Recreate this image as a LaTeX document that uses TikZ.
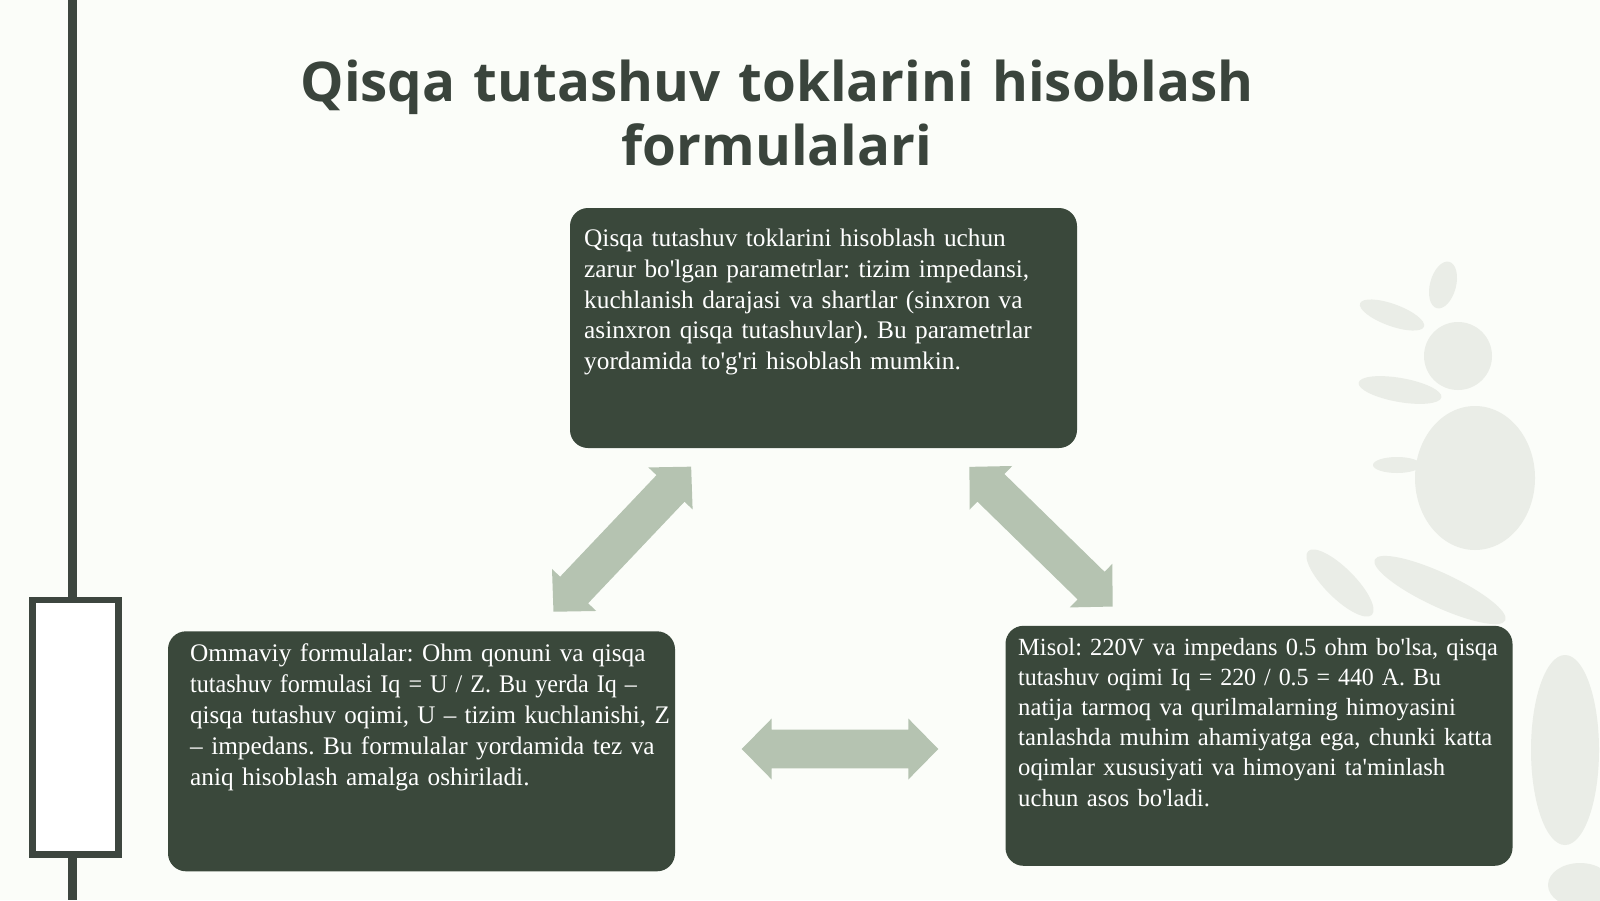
\documentclass[tikz,border=0pt]{standalone}
\usepackage{fontspec}
\usepackage{graphicx}
\setmainfont{Liberation Serif}
\newfontfamily\titlefont{Open Sans}
\definecolor{bg}{HTML}{FBFDF9}
\definecolor{boxc}{HTML}{3A483B}
\definecolor{titlec}{HTML}{3A443C}
\definecolor{arrowc}{HTML}{B5C3B1}
\definecolor{barc}{HTML}{3D463F}
\definecolor{shadowi}{HTML}{EAEDE7}
\newcommand{\ap}{\textquotesingle}
\newcommand{\sq}[2]{\scalebox{#1}[1]{#2}}
\newcommand{\dblarr}[3]{%
  \begin{scope}[shift={(#1)}, rotate=#2]
    \fill[arrowc] (-#3,0) -- (-#3+30,-30.5) -- (-#3+30,-19.3) -- (#3-30,-19.3) -- (#3-30,-30.5) -- (#3,0)
      -- (#3-30,30.5) -- (#3-30,19.3) -- (-#3+30,19.3) -- (-#3+30,30.5) -- cycle;
  \end{scope}}
% faint shadow blob: centre, x radius, y radius, rotation
\newcommand{\blob}[4]{%
  \fill[shadowi] (#1) ellipse [x radius=#2, y radius=#3, rotate=#4];}
\tikzset{
  panel/.style={fill=boxc, rounded corners=18pt, minimum width=507pt, minimum height=240pt, inner sep=0pt, draw=none},
  paneltext/.style={anchor=base west, inner sep=0pt, text=white, text width=520pt, align=left,
    font=\frenchspacing\fontsize{25.3}{30.7}\selectfont},
  titletext/.style={anchor=base, inner sep=0pt, text=titlec, text width=1200pt, align=center,
    font=\titlefont\bfseries\fontsize{54.7}{63.3}\selectfont},
}
\begin{document}
\begin{tikzpicture}[x=1pt, y=-1pt]
\useasboundingbox (0,0) rectangle (1600,900);
\fill[bg] (0,0) rectangle (1600,900);
% faint leaf shadow
\blob{1443,285}{13}{24}{-15}
\blob{1392,315}{34}{11}{-20}
\blob{1458,356}{34}{34}{0}
\blob{1400,390}{42}{12}{-10}
\blob{1475,478}{60}{72}{0}
\blob{1397,465}{24}{8}{0}
\blob{1340,583}{45}{15}{-45}
\blob{1440,590}{72}{17}{-25}
\blob{1565,750}{34}{95}{0}
\blob{1580,885}{32}{22}{0}
% left decoration
\draw[barc, line width=9pt] (72.5,0) -- (72.5,900);
\draw[barc, line width=6.3pt, fill=white] (32.5,600) rectangle (118.5,854.5);
% title
\node[titletext] (title) at (777,101.7) {Qisqa tutashuv toklarini hisoblash\\formulalari};
% panels
\node[panel] (top) at (823.5,328) {};
\node[panel] (left) at (421.5,751.3) {};
\node[panel] (right) at (1259,745.8) {};
\node[paneltext] (toptext) at (584,246.7) {Qisqa tutashuv toklarini hisoblash uchun\\
zarur bo\ap lgan parametrlar: tizim impedansi,\\
kuchlanish darajasi va shartlar (sinxron va\\
asinxron qisqa tutashuvlar). Bu parametrlar\\
yordamida to\ap g\ap ri hisoblash mumkin.};
\node[paneltext, font=\frenchspacing\fontsize{25.3}{31}\selectfont] (lefttext) at (190,661) {Ommaviy formulalar: Ohm qonuni va qisqa\\
\sq{0.953}{tutashuv formulasi Iq = U / Z. Bu yerda Iq –}\\
\sq{0.989}{qisqa tutashuv oqimi, U – tizim kuchlanishi, Z}\\
– impedans. Bu formulalar yordamida tez va\\
aniq hisoblash amalga oshiriladi.};
\node[paneltext, font=\frenchspacing\fontsize{24.7}{30.2}\selectfont] (righttext) at (1018,655) {\sq{0.99}{Misol: 220V va impedans 0.5 ohm bo\ap lsa, qisqa}\\
\sq{0.968}{tutashuv oqimi Iq = 220 / 0.5 = 440 A. Bu}\\
natija tarmoq va qurilmalarning himoyasini\\
tanlashda muhim ahamiyatga ega, chunki katta\\
oqimlar xususiyati va himoyani ta\ap minlash\\
uchun asos bo\ap ladi.};
% arrows
\dblarr{622.3,539.2}{46.5}{100}
\dblarr{1041,536.7}{-44.3}{100}
\dblarr{840,749}{0}{98.3}
\end{tikzpicture}
\end{document}
